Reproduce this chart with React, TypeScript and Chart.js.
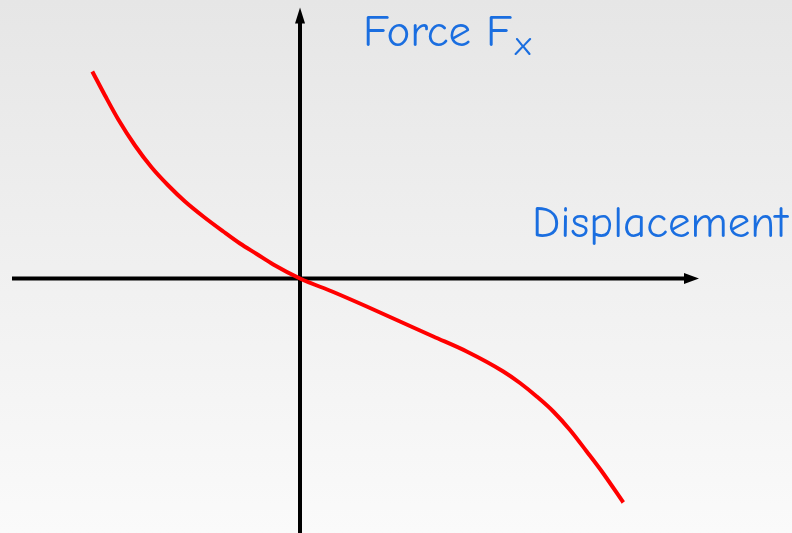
import React, { useEffect, useRef } from "react";
import { Chart, registerables } from "chart.js";

Chart.register(...registerables);

// Curve samples (displacement, force) in arbitrary units
const displacement = [-2.077, -1.95, -1.817, -1.65, -1.483, -1.317, -1.15, -0.967, -0.767, -0.6, -0.433, -0.267, 0, 0.333, 0.667, 1.0, 1.333, 1.667, 2.033, 2.2, 2.367, 2.533, 2.7, 2.867, 3.033, 3.233];
const force = [2.07, 1.83, 1.59, 1.33, 1.11, 0.93, 0.77, 0.62, 0.47, 0.35, 0.245, 0.14, 0.0, -0.135, -0.28, -0.43, -0.58, -0.73, -0.93, -1.045, -1.18, -1.33, -1.515, -1.73, -1.95, -2.24];

const xRange = [-3.0, 4.92];
const yRange = [-2.545, 2.785];
const xAxisExtent = [-2.88, 3.99];
const yAxisExtent = [-2.6, 2.71];

const yTitle = "Force F";
const yTitleSub = "x";
const xTitle = "Displacement";
const yTitlePos = [0.63, 2.325];
const xTitlePos = [2.32, 0.415];

const FONT = '"Comic Sans MS", "Comic Neue", "DejaVu Sans", sans-serif';
const BLUE = "#1a6ee0";

const axesPlugin = {
  id: "physAxes",
  beforeDatasetsDraw(chart: any) {
    const { ctx } = chart;
    const xs = chart.scales.x;
    const ys = chart.scales.y;
    const x0 = xs.getPixelForValue(0);
    const y0 = ys.getPixelForValue(0);
    ctx.save();
    ctx.strokeStyle = "#000";
    ctx.fillStyle = "#000";
    ctx.lineWidth = 4;
    const hx1 = xs.getPixelForValue(xAxisExtent[0]);
    const hx2 = xs.getPixelForValue(xAxisExtent[1]);
    ctx.beginPath();
    ctx.moveTo(hx1, y0);
    ctx.lineTo(hx2 - 12, y0);
    ctx.stroke();
    ctx.beginPath();
    ctx.moveTo(hx2, y0);
    ctx.lineTo(hx2 - 15, y0 - 5.5);
    ctx.lineTo(hx2 - 15, y0 + 5.5);
    ctx.closePath();
    ctx.fill();
    const vy1 = ys.getPixelForValue(yAxisExtent[0]);
    const vy2 = ys.getPixelForValue(yAxisExtent[1]);
    ctx.beginPath();
    ctx.moveTo(x0, vy1);
    ctx.lineTo(x0, vy2 + 12);
    ctx.stroke();
    ctx.beginPath();
    ctx.moveTo(x0, vy2);
    ctx.lineTo(x0 - 5, vy2 + 16);
    ctx.lineTo(x0 + 5, vy2 + 16);
    ctx.closePath();
    ctx.fill();
    ctx.restore();
  },
  afterDatasetsDraw(chart: any) {
    const { ctx } = chart;
    const xs = chart.scales.x;
    const ys = chart.scales.y;
    ctx.save();
    ctx.fillStyle = BLUE;
    ctx.textBaseline = "alphabetic";
    ctx.textAlign = "left";
    ctx.font = `45px ${FONT}`;
    const fx = xs.getPixelForValue(yTitlePos[0]);
    const fy = ys.getPixelForValue(yTitlePos[1]);
    ctx.fillText(yTitle, fx, fy);
    const w = ctx.measureText(yTitle).width;
    ctx.font = `34px ${FONT}`;
    ctx.fillText(yTitleSub, fx + w + 3, fy + 9);
    ctx.font = `45px ${FONT}`;
    ctx.fillText(xTitle, xs.getPixelForValue(xTitlePos[0]), ys.getPixelForValue(xTitlePos[1]));
    ctx.restore();
  },
};

export default function App() {
  const ref = useRef<HTMLCanvasElement>(null);
  useEffect(() => {
    document.body.style.margin = "0";
    const chart = new Chart(ref.current!, {
      type: "line",
      data: {
        datasets: [
          {
            data: displacement.map((x, i) => ({ x, y: force[i] })),
            borderColor: "#ff0000",
            borderWidth: 4,
            pointRadius: 0,
            cubicInterpolationMode: "monotone",
            fill: false,
          },
        ],
      },
      options: {
        animation: false,
        responsive: false,
        layout: { padding: 0 },
        plugins: { legend: { display: false }, tooltip: { enabled: false }, title: { display: false } },
        scales: {
          x: { type: "linear", min: xRange[0], max: xRange[1], display: false },
          y: { type: "linear", min: yRange[0], max: yRange[1], display: false },
        },
      },
      plugins: [axesPlugin],
    });
    return () => chart.destroy();
  }, []);
  return (
    <div
      style={{
        position: "absolute",
        left: 0,
        top: 0,
        width: 792,
        height: 533,
        background: "linear-gradient(#e6e6e6, #fafafa)",
      }}
    >
      <canvas ref={ref} width={792} height={533} />
    </div>
  );
}
